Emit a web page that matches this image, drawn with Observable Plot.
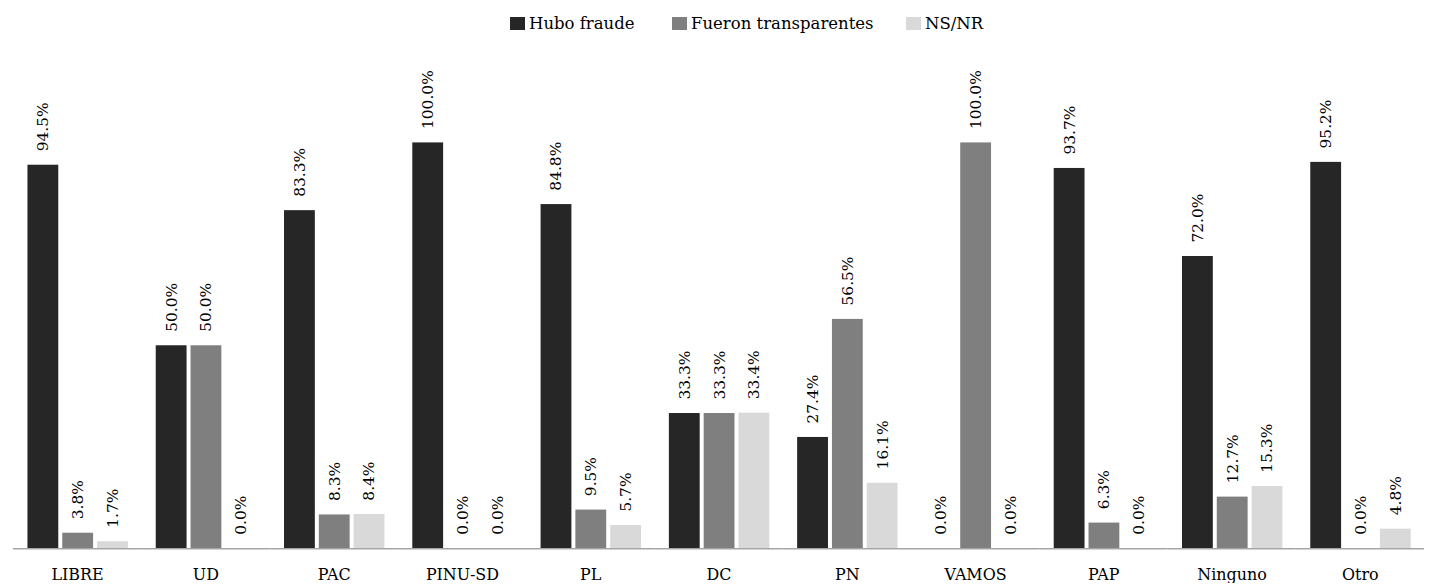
<!DOCTYPE html>
<html>
<head>
<meta charset="utf-8">
<script src="https://cdn.jsdelivr.net/npm/d3@7"></script>
<script src="https://cdn.jsdelivr.net/npm/@observablehq/plot@0.6"></script>
<style>
  html, body { margin: 0; padding: 0; background: #fff; overflow: hidden; }
  #wrap { width: 1430px; height: 586px; overflow: hidden; }
  #legend { position: relative; height: 36px;
    font-family: "DejaVu Serif", "Liberation Serif", serif; font-size: 16.5px; color: #000; line-height: 16px; }
  .sw { position: absolute; top: 17px; width: 15px; height: 13px; }
  .lt { position: absolute; top: 16px; white-space: nowrap; }
  #chart svg { display: block; }
</style>
</head>
<body>
<div id="wrap">
  <div id="legend"></div>
  <div id="chart"></div>
</div>
<script>
const categories = ["LIBRE", "UD", "PAC", "PINU-SD", "PL", "DC", "PN", "VAMOS", "PAP", "Ninguno", "Otro"];
const series = ["Hubo fraude", "Fueron transparentes", "NS/NR"];
const colors = ["#262626", "#7f7f7f", "#d9d9d9"];
const huboFraude = [94.5, 50.0, 83.3, 100.0, 84.8, 33.3, 27.4, 0.0, 93.7, 72.0, 95.2];
const fueronTransparentes = [3.8, 50.0, 8.3, 0.0, 9.5, 33.3, 56.5, 100.0, 6.3, 12.7, 0.0];
const nsnr = [1.7, 0.0, 8.4, 0.0, 5.7, 33.4, 16.1, 0.0, 0.0, 15.3, 4.8];

const seriesValues = [huboFraude, fueronTransparentes, nsnr];
const data = [];
categories.forEach((c, i) => {
  series.forEach((s, j) => data.push({cat: c, series: s, value: seriesValues[j][i]}));
});

// legend (swatch left positions follow the reference layout)
const legendX = [510, 672, 906];
const legend = document.getElementById("legend");
series.forEach((s, j) => {
  const sw = document.createElement("div");
  sw.className = "sw";
  sw.style.left = legendX[j] + "px";
  sw.style.background = colors[j];
  const t = document.createElement("div");
  t.className = "lt";
  t.style.left = (legendX[j] + 19) + "px";
  t.textContent = s;
  legend.appendChild(sw); legend.appendChild(t);
});

const chart = Plot.plot({
  width: 1438,
  height: 550,
  marginLeft: 8.4,
  marginRight: 0.7,
  marginTop: 107,
  marginBottom: 35,
  style: {fontFamily: "'DejaVu Serif', 'Liberation Serif', serif", fontSize: "16px", color: "#000", background: "#fff"},
  fx: {domain: categories, padding: 0, label: null, tickSize: 0, tickPadding: 20},
  x: {domain: series, paddingInner: 0.1226, paddingOuter: 0.37, axis: null},
  y: {domain: [0, 100], axis: null},
  color: {domain: series, range: colors},
  marks: [
    Plot.barY(data, {fx: "cat", x: "series", y: "value", fill: "series"}),
    Plot.text(data, {fx: "cat", x: "series", y: "value", text: d => d.value.toFixed(1) + "%",
      rotate: -90, textAnchor: "start", dy: -14, fontSize: 15.5, fill: "#000"}),
    Plot.ruleY([0], {stroke: "#a6a6a6", strokeWidth: 1.5})
  ]
});
document.getElementById("chart").appendChild(chart);
</script>
</body>
</html>
